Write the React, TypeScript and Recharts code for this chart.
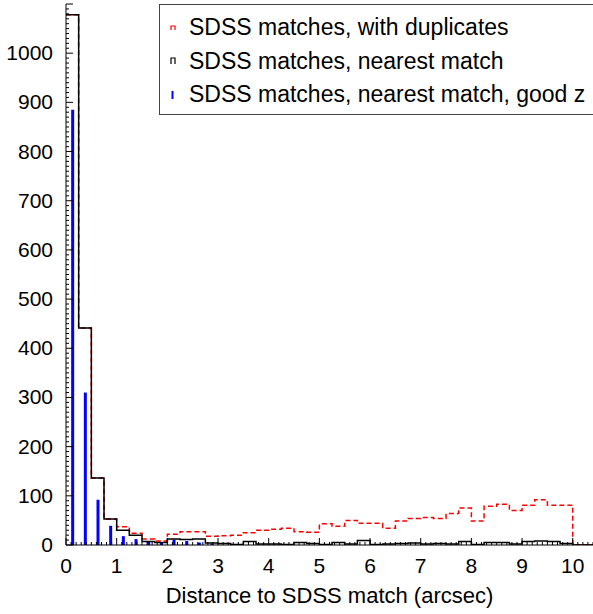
import { ComposedChart, Line, Bar, XAxis, YAxis } from 'recharts';

// histogram bins of 0.25 arcsec, 0 -> 10
const binWidth = 0.25;
const withDuplicates = [
  1078, 441, 136, 53, 37, 24, 12, 8, 22, 27,
  27, 18, 19, 20, 25, 30, 32, 34, 27, 26,
  43, 38, 50, 44, 44, 34, 49, 54, 56, 54,
  64, 75, 49, 79, 83, 70, 81, 92, 81, 81,
];
const nearestMatch = [
  1078, 441, 136, 53, 30, 20, 7, 5, 12, 11,
  12, 4, 3, 1, 7, 2, 2, 1, 5, 3,
  1, 5, 2, 9, 1, 2, 3, 4, 2, 3,
  2, 7, 1, 5, 5, 2, 7, 8, 7, 3,
];
const goodZ = [
  885, 310, 92, 39, 18, 12, 8, 5, 11, 8,
  5, 3, 0, 0, 0, 0, 0, 0, 0, 0,
  0, 0, 0, 0, 0, 0, 0, 0, 0, 0,
  0, 0, 0, 0, 0, 0, 0, 0, 0, 0,
];
const xMax = 10.4;
const yMax = 1100;

const xTicks = Array.from({ length: 105 }, (_, i) => i / 10);
const yTicks = Array.from({ length: 111 }, (_, i) => i * 10);

const data: any[] = [];
withDuplicates.forEach((v, i) => {
  data.push({ x: i * binWidth, dup: v, near: nearestMatch[i] });
  if (goodZ[i] > 0) data.push({ x: i * binWidth + binWidth / 2, good: goodZ[i] });
});
data.push({ x: withDuplicates.length * binWidth, dup: 0, near: 0 });
data.push({ x: xMax, dup: 0, near: 0 });

const FONT = '"Liberation Sans", Arial, sans-serif';
const MARGIN_X = 12;
const MARGIN_Y = 13;

const isMajorX = (v: number) => Math.abs(v - Math.round(v)) < 1e-6;
const isMajorY = (v: number) => v % 100 === 0;

function BottomTick({ x, y, payload }: any) {
  const v = payload.value;
  const major = isMajorX(v);
  const y0 = y - MARGIN_X;
  return (
    <g>
      <line x1={x} x2={x} y1={y0} y2={y0 - (major ? 7 : 3)} stroke="#000" />
      {major && (
        <text x={x} y={y} dy={16} textAnchor="middle" fontSize={21} fontFamily={FONT} fill="#000">
          {Math.round(v)}
        </text>
      )}
    </g>
  );
}

function TopTick({ x, y, payload }: any) {
  const major = isMajorX(payload.value);
  return <line x1={x} x2={x} y1={y} y2={y + (major ? 7 : 3)} stroke="#000" />;
}

function LeftTick({ x, y, payload }: any) {
  const v = payload.value;
  const major = isMajorY(v);
  const x0 = x + MARGIN_Y;
  return (
    <g>
      <line x1={x0} x2={x0 + (major ? 7 : 3)} y1={y} y2={y} stroke="#000" />
      {major && v <= 1000 && (
        <text x={x} y={y} dy={7} textAnchor="end" fontSize={21} fontFamily={FONT} fill="#000">
          {v}
        </text>
      )}
    </g>
  );
}

function RightTick({ x, y, payload }: any) {
  const major = isMajorY(payload.value);
  return <line x1={x} x2={x - (major ? 7 : 3)} y1={y} y2={y} stroke="#000" />;
}

const legendItems = [
  { label: 'SDSS matches, with duplicates', color: '#ff0000', kind: 'step', h: 4 },
  { label: 'SDSS matches, nearest match', color: '#000000', kind: 'step', h: 6 },
  { label: 'SDSS matches, nearest match, good z', color: '#0000ff', kind: 'bar', h: 8 },
];

function LegendBox() {
  return (
    <div
      style={{
        position: 'absolute',
        left: 159,
        top: 4,
        width: 460,
        height: 111,
        border: '1px solid #444',
        background: '#fff',
        paddingTop: 6,
        paddingLeft: 10,
        boxSizing: 'border-box',
        fontFamily: FONT,
        fontSize: 23,
        color: '#000',
      }}
    >
      {legendItems.map((it) => (
        <div key={it.label} style={{ height: 33.5, lineHeight: '33.5px', display: 'flex', alignItems: 'center' }}>
          <svg width={6} height={10} style={{ marginRight: 13 }}>
            {it.kind === 'step' ? (
              <path d={`M1,${5 + it.h / 2} V${5 - it.h / 2} H5 V${5 + it.h / 2}`} fill="none" stroke={it.color} strokeWidth={1.2} />
            ) : (
              <line x1={2.5} x2={2.5} y1={1} y2={9} stroke={it.color} strokeWidth={2} />
            )}
          </svg>
          <span style={{ whiteSpace: 'nowrap' }}>{it.label}</span>
        </div>
      ))}
    </div>
  );
}

export default function App() {
  return (
    <div style={{ position: 'absolute', left: 0, top: 0, width: 593, height: 614, background: '#fff' }}>
      <ComposedChart width={593} height={614} data={data} margin={{ top: 4, right: 0, bottom: 0, left: 0 }}>
        <XAxis
          dataKey="x"
          type="number"
          domain={[0, xMax]}
          ticks={xTicks}
          interval={0}
          allowDataOverflow
          height={69}
          tickSize={0}
          tickMargin={MARGIN_X}
          tickLine={false}
          stroke="#000"
          tick={BottomTick}
          label={{ value: 'Distance to SDSS match (arcsec)', position: 'insideBottom', offset: 11, fontSize: 22, fill: '#000', fontFamily: FONT }}
        />
        <XAxis
          xAxisId="top"
          orientation="top"
          type="number"
          domain={[0, xMax]}
          ticks={xTicks}
          interval={0}
          allowDataOverflow
          height={0}
          tickSize={0}
          tickMargin={0}
          tickLine={false}
          stroke="#000"
          tick={TopTick}
        />
        <YAxis
          type="number"
          domain={[0, yMax]}
          ticks={yTicks}
          interval={0}
          allowDataOverflow
          width={66}
          tickSize={0}
          tickMargin={MARGIN_Y}
          tickLine={false}
          stroke="#000"
          tick={LeftTick}
        />
        <YAxis
          yAxisId="right"
          orientation="right"
          type="number"
          domain={[0, yMax]}
          ticks={yTicks}
          interval={0}
          allowDataOverflow
          width={0}
          tickSize={0}
          tickMargin={0}
          tickLine={false}
          stroke="#000"
          tick={RightTick}
        />
        <Line
          dataKey="dup"
          type="stepAfter"
          stroke="#ff0000"
          strokeWidth={1.5}
          strokeDasharray="5 3"
          dot={false}
          connectNulls
          isAnimationActive={false}
        />
        <Line
          dataKey="near"
          type="stepAfter"
          stroke="#000"
          strokeWidth={1.5}
          dot={false}
          connectNulls
          isAnimationActive={false}
        />
        <Bar dataKey="good" fill="#0000ff" barSize={3} isAnimationActive={false} />
      </ComposedChart>
      <LegendBox />
    </div>
  );
}
